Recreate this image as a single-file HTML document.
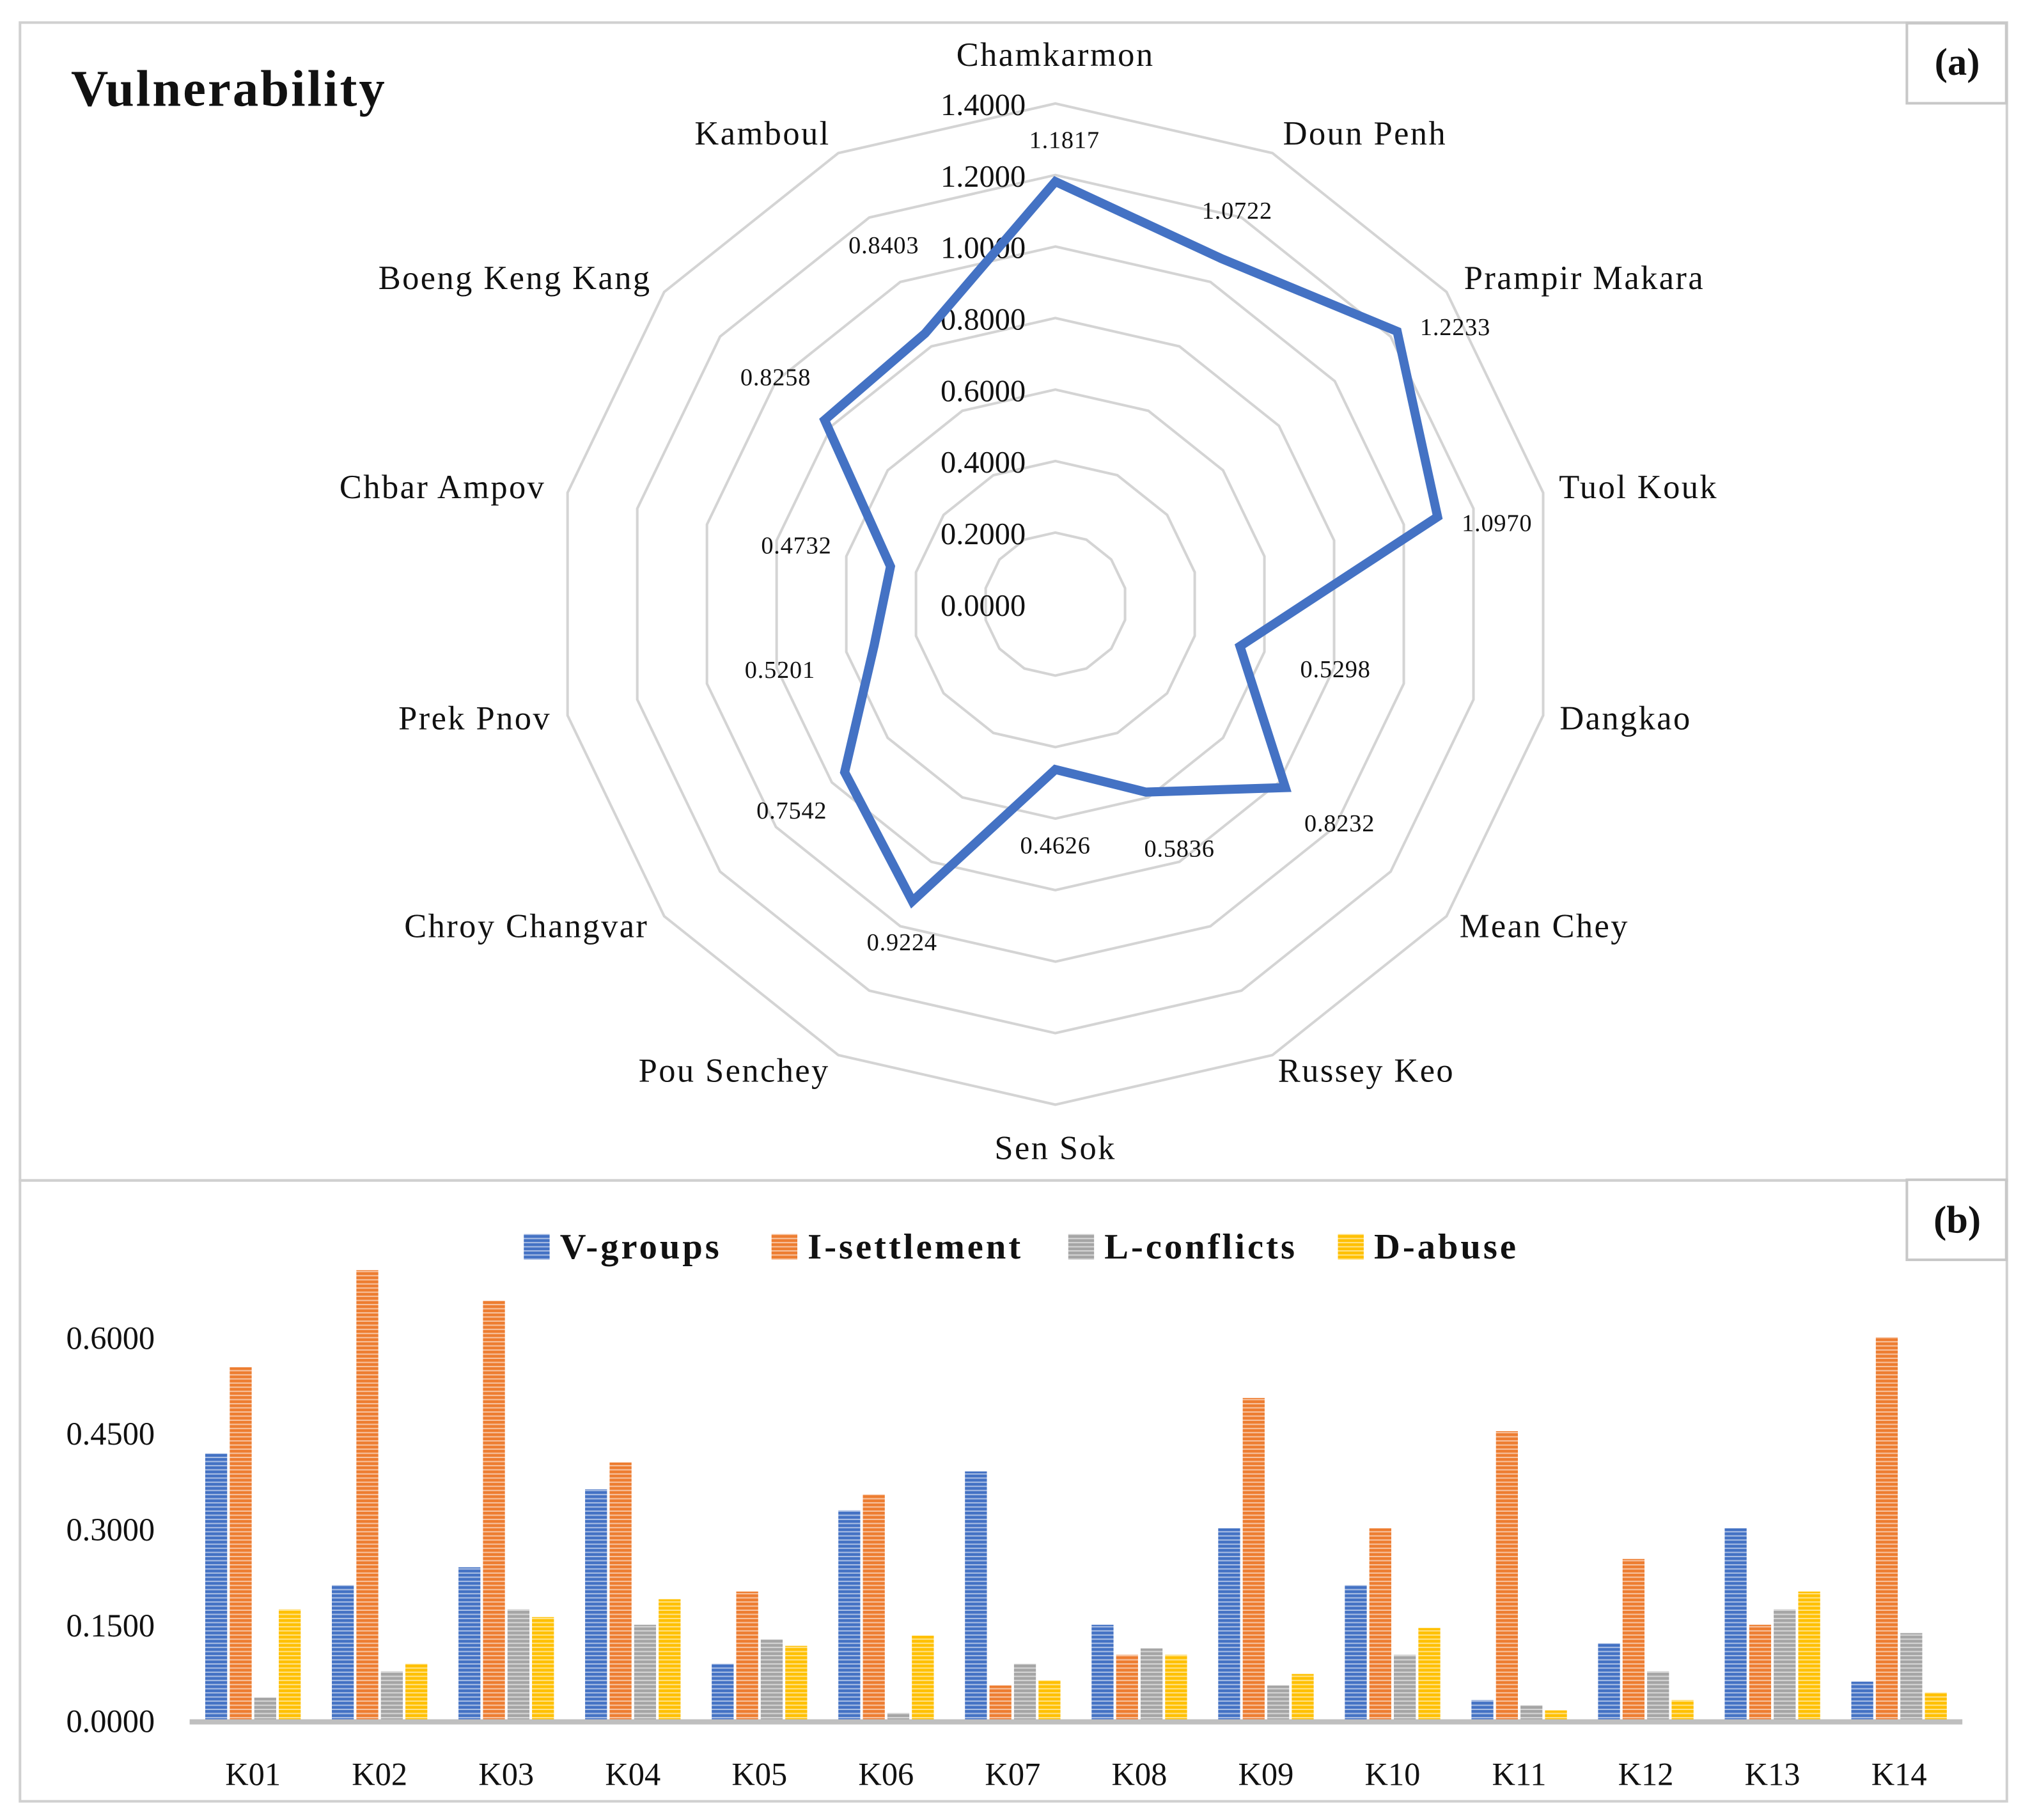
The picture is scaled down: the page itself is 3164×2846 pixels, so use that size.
<!DOCTYPE html>
<html><head><meta charset="utf-8"><style>
html,body{margin:0;padding:0;background:#fff;}
svg{display:block;}
text{font-family:"Liberation Serif",serif;fill:#111;}
</style></head><body>
<svg id="fig" width="3164" height="2846" viewBox="0 0 1568 1410" preserveAspectRatio="none" xmlns="http://www.w3.org/2000/svg">
<defs>
<pattern id="pb" width="4" height="3.2" patternUnits="userSpaceOnUse"><rect width="4" height="3.2" fill="#4472C4"/><rect y="2.2" width="4" height="1" fill="#fff" opacity="0.55"/></pattern>
<pattern id="po" width="4" height="3.2" patternUnits="userSpaceOnUse"><rect width="4" height="3.2" fill="#ED7D31"/><rect y="2.2" width="4" height="1" fill="#fff" opacity="0.55"/></pattern>
<pattern id="pg" width="4" height="3.2" patternUnits="userSpaceOnUse"><rect width="4" height="3.2" fill="#A5A5A5"/><rect y="2.2" width="4" height="1" fill="#fff" opacity="0.55"/></pattern>
<pattern id="py" width="4" height="3.2" patternUnits="userSpaceOnUse"><rect width="4" height="3.2" fill="#FFC000"/><rect y="2.2" width="4" height="1" fill="#fff" opacity="0.55"/></pattern>
</defs>
<rect x="15.5" y="17.5" width="1540" height="897" fill="none" stroke="#d0d0d0" stroke-width="2"/>
<rect x="15.5" y="914.5" width="1540" height="481" fill="none" stroke="#d0d0d0" stroke-width="2"/>
<rect x="1478" y="18" width="77" height="62" fill="#fff" stroke="#c8c8c8" stroke-width="2"/>
<text x="1517" y="58" font-size="30" font-weight="bold" text-anchor="middle">(a)</text>
<rect x="1478" y="914" width="77" height="62" fill="#fff" stroke="#c8c8c8" stroke-width="2"/>
<text x="1517" y="955" font-size="30" font-weight="bold" text-anchor="middle">(b)</text>
<text x="55" y="82" font-size="40" font-weight="bold" letter-spacing="1.5">Vulnerability</text>
<g id="radar"></g>
<g id="bars"></g>
</svg>
<script>
const districts=["Chamkarmon","Doun Penh","Prampir Makara","Tuol Kouk","Dangkao","Mean Chey","Russey Keo","Sen Sok","Pou Senchey","Chroy Changvar","Prek Pnov","Chbar Ampov","Boeng Keng Kang","Kamboul"];
const vulnerability=[1.1817,1.0722,1.2233,1.0970,0.5298,0.8232,0.5836,0.4626,0.9224,0.7542,0.5201,0.4732,0.8258,0.8403];
const radarTicks=[0,0.2,0.4,0.6,0.8,1.0,1.2,1.4];

const categories=["K01","K02","K03","K04","K05","K06","K07","K08","K09","K10","K11","K12","K13","K14"];
const vGroups=[0.418,0.212,0.240,0.362,0.089,0.329,0.390,0.150,0.301,0.212,0.032,0.121,0.301,0.061];
const iSettlement=[0.553,0.705,0.657,0.404,0.202,0.354,0.055,0.103,0.505,0.301,0.453,0.253,0.150,0.600];
const lConflicts=[0.036,0.077,0.174,0.150,0.127,0.012,0.089,0.113,0.055,0.103,0.024,0.077,0.174,0.137];
const dAbuse=[0.174,0.089,0.162,0.190,0.117,0.133,0.063,0.103,0.073,0.145,0.016,0.032,0.202,0.044];
const barTicks=[0,0.15,0.30,0.45,0.60];
const seriesNames=["V-groups","I-settlement","L-conflicts","D-abuse"];

const NS="http://www.w3.org/2000/svg";
function mk(tag,attrs,parent,txt){const e=document.createElementNS(NS,tag);for(const k in attrs)e.setAttribute(k,attrs[k]);if(txt!==undefined)e.textContent=txt;parent.appendChild(e);return e;}

// Radar
const R=document.getElementById('radar');
const cx=818,cy=468,unit=277,N=districts.length;
function ang(i){return i*2*Math.PI/N;}
function pt(i,v){const a=ang(i);return [cx+Math.sin(a)*v*unit, cy-Math.cos(a)*v*unit];}
radarTicks.forEach((t,k)=>{if(t===0)return;
  const pts=districts.map((d,i)=>pt(i,t).join(',')).join(' ');
  const ring=mk('polygon',{points:pts,fill:'none',stroke:'#d4d4d4','stroke-width':2},R);
  
  
});
radarTicks.forEach(t=>{
  const tl=mk('text',{x:cx-23,y:cy-t*unit+9,'font-size':24,'text-anchor':'end'},R,t.toFixed(4));
  
  
});
const labelPos=[[818,43],[1058,104],[1228,216],[1270,378],[1260,557],[1197,718],[1059,830],[818,890],[569,830],[408,718],[368,557],[343,378],[399,216],[591,104]];
districts.forEach((d,i)=>{
  const t=mk('text',{x:labelPos[i][0],y:labelPos[i][1]+8,'font-size':26,'letter-spacing':1.2,'text-anchor':'middle'},R,d);
  
  
});
const poly=mk('polygon',{points:vulnerability.map((v,i)=>pt(i,v).join(',')).join(' '),fill:'none',stroke:'#4472C4','stroke-width':7,'stroke-linejoin':'miter'},R);


const labelOffX=[7,12,45,46,74,42,26,0,-8,-41,-73,-73,-38,-32];
const labelOffY=[-32,-37,-3,5,18,28,44,59,32,30,19,-16,-33,-68];
vulnerability.forEach((v,i)=>{
  const p=pt(i,v);
  const t=mk('text',{x:p[0]+labelOffX[i],y:p[1]+labelOffY[i]+6,'font-size':19,'letter-spacing':0.4,'text-anchor':'middle'},R,v.toFixed(4));
  
  
});

// Bars
const B=document.getElementById('bars');
const y0=1333,yUnit=495,x0=147,x1=1521;
const step=(x1-x0)/categories.length;
function yS(v){return y0-v*yUnit;}
function xC(i){return x0+step*(i+0.5);}
barTicks.forEach(t=>{
  const tl=mk('text',{x:120,y:yS(t)+9,'font-size':25,'text-anchor':'end'},B,t.toFixed(4));
  
  
});
const series=[vGroups,iSettlement,lConflicts,dAbuse];
const fills=['url(#pb)','url(#po)','url(#pg)','url(#py)'];
const bw=17,bs=19;
categories.forEach((c,i)=>{
  series.forEach((s,k)=>{
    const x=xC(i)-2*bs+k*bs+1;
    const r=mk('rect',{x:x,y:yS(s[i]),width:bw,height:s[i]*yUnit,fill:fills[k]},B);
    
    
  });
  const t=mk('text',{x:xC(i),y:1383,'font-size':25,'text-anchor':'middle'},B,c);
  
  
});
const ax=mk('line',{x1:x0,y1:y0+1,x2:x1,y2:y0+1,stroke:'#bfbfbf','stroke-width':4},B);


const legX=[406,598,828,1037];
seriesNames.forEach((n,k)=>{
  const sq=mk('rect',{x:legX[k],y:956,width:20,height:20,fill:fills[k]},B);
  
  
  const t=mk('text',{x:legX[k]+28,y:975,'font-size':28,'font-weight':'bold','letter-spacing':2},B,n);
  
  
});
</script>
</body></html>
